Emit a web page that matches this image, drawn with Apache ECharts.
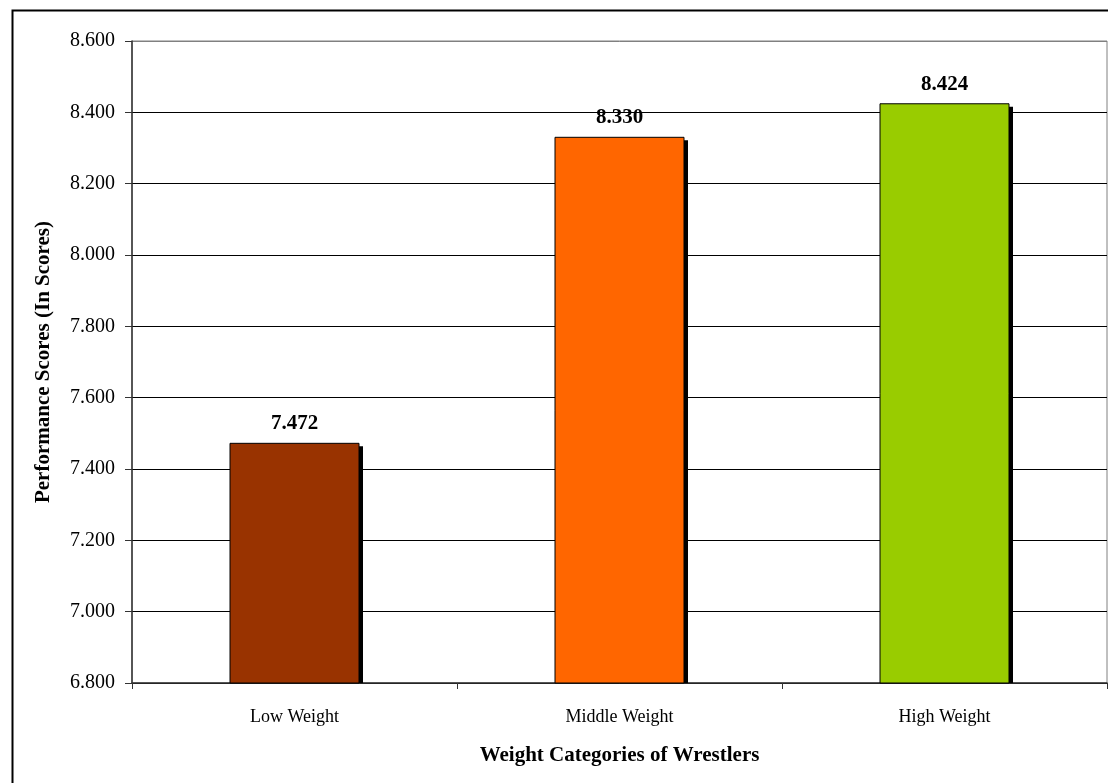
<!DOCTYPE html>
<html>
<head>
<meta charset="utf-8">
<script src="https://cdn.jsdelivr.net/npm/echarts@6/dist/echarts.min.js"></script>
<style>
  html, body { margin: 0; padding: 0; background: #fff; }
  #chart { width: 1108px; height: 783px; }
</style>
</head>
<body>
<div id="chart"></div>
<script>
// Wrestler performance by weight category
const categories = ['Low Weight', 'Middle Weight', 'High Weight'];
const scores = [7.472, 8.330, 8.424];
const barColors = ['#993300', '#FF6600', '#99CC00'];
const yTicks = [6.8, 7.0, 7.2, 7.4, 7.6, 7.8, 8.0, 8.2, 8.4, 8.6];

const FONT = '"Liberation Serif", "Times New Roman", serif';
const BAR_W = 129;

// each bar: drop shadow, filled box with black outline, value label above
function renderBar(params, api) {
  const i = api.value(0);
  const v = api.value(1);
  const top = api.coord([i, v]);
  const base = api.coord([i, yTicks[0]]);
  const x = top[0] - BAR_W / 2;
  const h = base[1] - top[1];
  return {
    type: 'group',
    children: [
      {
        type: 'rect',
        shape: { x: x + 4, y: top[1] + 3, width: BAR_W, height: h - 3 },
        style: { fill: '#000' }
      },
      {
        type: 'rect',
        shape: { x: x, y: top[1], width: BAR_W, height: h },
        style: { fill: barColors[i], stroke: '#000', lineWidth: 1 }
      },
      {
        type: 'text',
        x: top[0],
        y: top[1] - 9,
        style: {
          text: v.toFixed(3),
          fill: '#000',
          font: 'bold 21px ' + FONT,
          textAlign: 'center',
          textVerticalAlign: 'bottom'
        }
      }
    ]
  };
}

const chart = echarts.init(document.getElementById('chart'));
chart.setOption({
  backgroundColor: '#ffffff',
  animation: false,
  graphic: [{
    type: 'rect',
    left: 10, top: 8,
    shape: { width: 1120, height: 820 },
    style: { fill: 'none', stroke: '#000', lineWidth: 2 },
    silent: true,
    z: -1
  }],
  grid: {
    left: 132, right: 1, top: 41, bottom: 100,
    show: true, borderColor: '#808080', borderWidth: 1, backgroundColor: '#fff'
  },
  xAxis: {
    type: 'category',
    data: categories,
    name: 'Weight Categories of Wrestlers',
    nameLocation: 'middle',
    nameGap: 62,
    nameTextStyle: { fontFamily: FONT, fontWeight: 'bold', fontSize: 21, color: '#000' },
    axisLine: { lineStyle: { color: '#333', width: 1.5 } },
    axisTick: { show: true, length: 6, lineStyle: { color: '#333' } },
    axisLabel: { fontFamily: FONT, fontSize: 18, color: '#000', margin: 25 }
  },
  yAxis: {
    type: 'value',
    min: yTicks[0], max: yTicks[yTicks.length - 1], interval: 0.2,
    name: 'Performance Scores (In Scores)',
    nameLocation: 'middle',
    nameGap: 78,
    nameTextStyle: { fontFamily: FONT, fontWeight: 'bold', fontSize: 21, color: '#000' },
    axisLine: { show: true, lineStyle: { color: '#333', width: 1.5 } },
    axisTick: { show: true, length: 7, lineStyle: { color: '#333' } },
    axisLabel: {
      fontFamily: FONT, fontSize: 20, color: '#000', margin: 17,
      formatter: v => v.toFixed(3)
    },
    splitLine: {
      show: true,
      lineStyle: {
        color: yTicks.map((t, k) => (k === yTicks.length - 1 ? '#808080' : '#000')),
        width: 1
      }
    }
  },
  series: [{
    type: 'custom',
    renderItem: renderBar,
    encode: { x: 0, y: 1 },
    data: scores.map((v, i) => [i, v])
  }]
});
</script>
</body>
</html>
